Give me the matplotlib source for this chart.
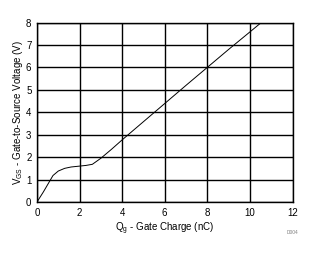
import matplotlib
matplotlib.use("Agg")
import matplotlib.pyplot as plt

plt.rcParams['font.family'] = ['Liberation Sans', 'DejaVu Sans']

# gate charge curve
qg = [0, 0.3, 0.75, 1.0, 1.3, 1.6, 2.0, 2.3, 2.6, 3.0, 3.5, 4.0, 5.0, 6.0, 7.0, 8.0, 9.0, 10.0, 10.6]
vgs = [0, 0.45, 1.18, 1.38, 1.5, 1.56, 1.6, 1.63, 1.68, 1.95, 2.35, 2.77, 3.58, 4.39, 5.2, 6.0, 6.8, 7.58, 8.05]

xticks = [0, 2, 4, 6, 8, 10, 12]
yticks = [0, 1, 2, 3, 4, 5, 6, 7, 8]

fig = plt.figure(figsize=(3.21, 2.54), dpi=100)
ax = fig.add_axes([37/321, 1 - 202/254, 255.5/321, 179.5/254])

ax.plot(qg, vgs, color='black', lw=0.7)

ax.set_xlim(0, 12)
ax.set_ylim(0, 8)
ax.set_xticks(xticks)
ax.set_yticks(yticks)
ax.grid(True, color='black', lw=1.0)
ax.tick_params(length=0, labelsize=7, pad=4)
for s in ax.spines.values():
    s.set_color('black')
    s.set_linewidth(1.0)

ax.set_xlabel(r'Q$_{\mathregular{g}}$ - Gate Charge (nC)', fontsize=7, labelpad=2)
ax.set_ylabel(r'V$_{\mathregular{GS}}$ - Gate-to-Source Voltage (V)', fontsize=7, labelpad=1)

fig.text(298/321, 1 - 232/254, 'D004', fontsize=3.5, color='grey', ha='right', va='center')

fig.savefig('out.png', dpi=100)
